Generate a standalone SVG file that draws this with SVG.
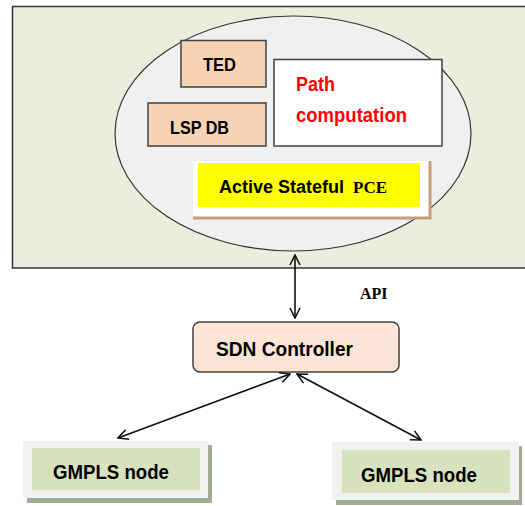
<svg xmlns="http://www.w3.org/2000/svg" width="525" height="506" viewBox="0 0 525 506">
  <defs>
    <style>
      .sans { font-family: "Liberation Sans", Arial, sans-serif; font-weight: bold; }
      .serif { font-family: "Liberation Serif", "Times New Roman", serif; font-weight: bold; }
      .store { fill: #f8d3b4; stroke: #404040; stroke-width: 1.5; }
      .gm-frame { fill: #f1f1f1; }
      .gm-shadow { fill: #a2ab93; }
      .gm-body { fill: #d8e3bd; }
      .link { stroke: #111; stroke-width: 1.6; fill: none; }
    </style>
    <marker id="open" viewBox="0 0 12 12" refX="11" refY="6" markerWidth="12" markerHeight="12" markerUnits="userSpaceOnUse" orient="auto-start-reverse">
      <path d="M1,1 L11,6 L1,11" fill="none" stroke="#111" stroke-width="1.6"/>
    </marker>
  </defs>

  <rect width="525" height="506" fill="#ffffff"/>

  <!-- PCE domain -->
  <g id="pce-domain">
    <rect x="12.5" y="6.5" width="520" height="261.5" fill="#e9efdc" stroke="#333" stroke-width="1.5"/>
    <ellipse cx="293" cy="133.5" rx="178" ry="117.5" fill="#f0f0f0" stroke="#333" stroke-width="1.2"/>
  </g>

  <g id="ted">
    <rect class="store" x="181" y="40.5" width="85" height="46.5"/>
    <text class="sans" x="203" y="71" font-size="19" textLength="33" lengthAdjust="spacingAndGlyphs">TED</text>
  </g>

  <g id="lsp-db">
    <rect class="store" x="148" y="103" width="118" height="43"/>
    <text class="sans" x="170" y="133.5" font-size="18.5" textLength="59" lengthAdjust="spacingAndGlyphs">LSP DB</text>
  </g>

  <g id="path-computation">
    <rect x="274" y="59.5" width="168" height="86.5" fill="#ffffff" stroke="#404040" stroke-width="1.5"/>
    <text class="sans" x="296" y="91" font-size="19.5" fill="#ff0000" textLength="39" lengthAdjust="spacingAndGlyphs">Path</text>
    <text class="sans" x="296" y="121.5" font-size="19.5" fill="#ff0000" textLength="111" lengthAdjust="spacingAndGlyphs">computation</text>
  </g>

  <g id="active-stateful-pce">
    <rect x="193" y="161" width="236" height="56" fill="#ffffff"/>
    <path d="M193,218 L430,218 L430,161" fill="none" stroke="#c39e80" stroke-width="3"/>
    <rect x="198" y="163" width="222" height="44" fill="#ffff00"/>
    <text x="219" y="193"><tspan class="sans" font-size="18">Active Stateful</tspan><tspan class="serif" x="353" font-size="17">PCE</tspan></text>
  </g>

  <text class="serif" x="360" y="299" font-size="16">API</text>

  <g id="sdn-controller">
    <rect x="193" y="322" width="206" height="50" rx="7" fill="#fce5d6" stroke="#404040" stroke-width="1.5"/>
    <text class="sans" x="216" y="355.5" font-size="20" textLength="137" lengthAdjust="spacingAndGlyphs">SDN Controller</text>
  </g>

  <g id="gmpls-node-left">
    <rect class="gm-shadow" x="27" y="445" width="185" height="58"/>
    <rect class="gm-frame" x="23" y="441" width="185" height="57"/>
    <rect class="gm-body" x="32" y="448" width="168" height="42"/>
    <text class="sans" x="53" y="478.5" font-size="19.5" textLength="116" lengthAdjust="spacingAndGlyphs">GMPLS node</text>
  </g>

  <g id="gmpls-node-right">
    <rect class="gm-shadow" x="336" y="446" width="186" height="59"/>
    <rect class="gm-frame" x="332" y="442" width="187" height="58"/>
    <rect class="gm-body" x="342" y="450" width="168" height="43"/>
    <text class="sans" x="361" y="481.5" font-size="19.5" textLength="116" lengthAdjust="spacingAndGlyphs">GMPLS node</text>
  </g>

  <!-- connectors -->
  <g id="connectors">
    <line class="link" x1="295" y1="255" x2="295" y2="318" marker-start="url(#open)" marker-end="url(#open)"/>
    <line class="link" x1="290" y1="374" x2="118" y2="438" marker-start="url(#open)" marker-end="url(#open)"/>
    <line class="link" x1="297" y1="374" x2="421" y2="440" marker-start="url(#open)" marker-end="url(#open)"/>
  </g>
</svg>
